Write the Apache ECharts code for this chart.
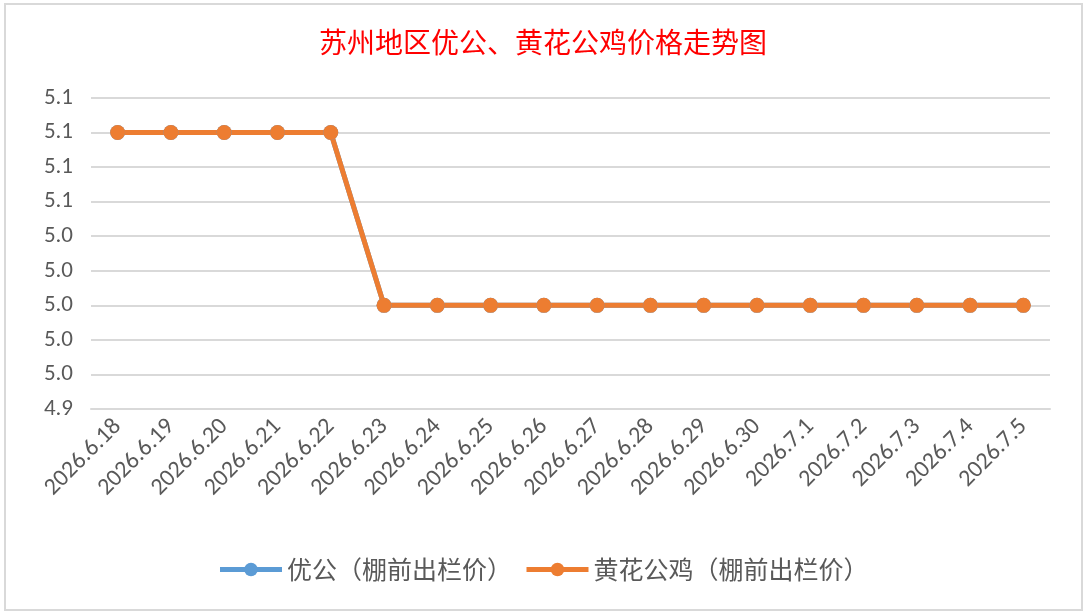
<!doctype html>
<html>
<head>
	<meta charset="utf-8">
	<title>苏州地区优公、黄花公鸡价格走势图</title>
	<script src="https://cdn.jsdelivr.net/npm/echarts@6/dist/echarts.min.js"></script>
	<style>
		html, body { margin: 0; padding: 0; background: #fff; }
		#chart { width: 1086px; height: 615px; }
	</style>
</head>
<body>
	<div id="chart"></div>
	<script>
		var dates = ["2026.6.18", "2026.6.19", "2026.6.20", "2026.6.21", "2026.6.22", "2026.6.23", "2026.6.24", "2026.6.25", "2026.6.26",
			"2026.6.27", "2026.6.28", "2026.6.29", "2026.6.30", "2026.7.1", "2026.7.2", "2026.7.3", "2026.7.4", "2026.7.5"];
		var youGong = [5.10, 5.10, 5.10, 5.10, 5.10, 5.00, 5.00, 5.00, 5.00, 5.00, 5.00, 5.00, 5.00, 5.00, 5.00, 5.00, 5.00, 5.00];
		var huangHua = [5.10, 5.10, 5.10, 5.10, 5.10, 5.00, 5.00, 5.00, 5.00, 5.00, 5.00, 5.00, 5.00, 5.00, 5.00, 5.00, 5.00, 5.00];
		var yMin = 4.94, yMax = 5.12, yStep = 0.02;

		var font = "Carlito, Calibri, 'Noto Sans CJK SC', sans-serif";
		var chart = echarts.init(document.getElementById("chart"));

		function lineSeries(name, data, color) {
			return {
				name: name,
				type: 'line',
				data: data,
				symbol: 'circle',
				symbolSize: 15,
				lineStyle: { color: color, width: 5 },
				itemStyle: { color: color },
				emphasis: { disabled: true }
			};
		}

		chart.setOption({
			animation: false,
			title: {
				text: "苏州地区优公、黄花公鸡价格走势图",
				left: 'center',
				top: 23,
				textStyle: {
					color: "#ff0000",
					fontSize: 28,
					fontWeight: 'normal',
					fontFamily: "'Noto Sans CJK SC', sans-serif"
				}
			},
			graphic: [{
				type: 'rect',
				shape: { x: 5, y: 4, width: 1077, height: 606 },
				style: { fill: 'none', stroke: '#d9d9d9', lineWidth: 2 },
				silent: true
			}],
			legend: {
				bottom: 28,
				left: 'center',
				itemWidth: 62,
				itemHeight: 17,
				itemGap: 12,
				lineStyle: { width: 5 },
				textStyle: { color: "#595959", fontSize: 25, fontFamily: "'Noto Sans CJK SC', sans-serif" },
				data: ["优公（棚前出栏价）", "黄花公鸡（棚前出栏价）"]
			},
			grid: {
				left: 91,
				right: 36,
				top: 98,
				bottom: 206,
				containLabel: false
			},
			xAxis: {
				type: 'category',
				data: dates,
				boundaryGap: true,
				axisTick: { show: false },
				axisLine: { show: true, lineStyle: { color: "#d9d9d9", width: 2 } },
				axisLabel: {
					interval: 0,
					rotate: 45,
					margin: 14,
					color: "#595959",
					fontSize: 24,
					fontFamily: font
				}
			},
			yAxis: {
				type: 'value',
				min: yMin,
				max: yMax,
				interval: yStep,
				axisLine: { show: false },
				axisTick: { show: false },
				splitLine: { lineStyle: { color: "#d9d9d9", width: 2 } },
				axisLabel: {
					margin: 18,
					color: "#595959",
					fontSize: 23,
					fontFamily: font,
					formatter: function(v) { return v.toFixed(1); }
				}
			},
			series: [
				lineSeries("优公（棚前出栏价）", youGong, "#5b9bd5"),
				lineSeries("黄花公鸡（棚前出栏价）", huangHua, "#ed7d31")
			]
		});
	</script>
</body>
</html>
